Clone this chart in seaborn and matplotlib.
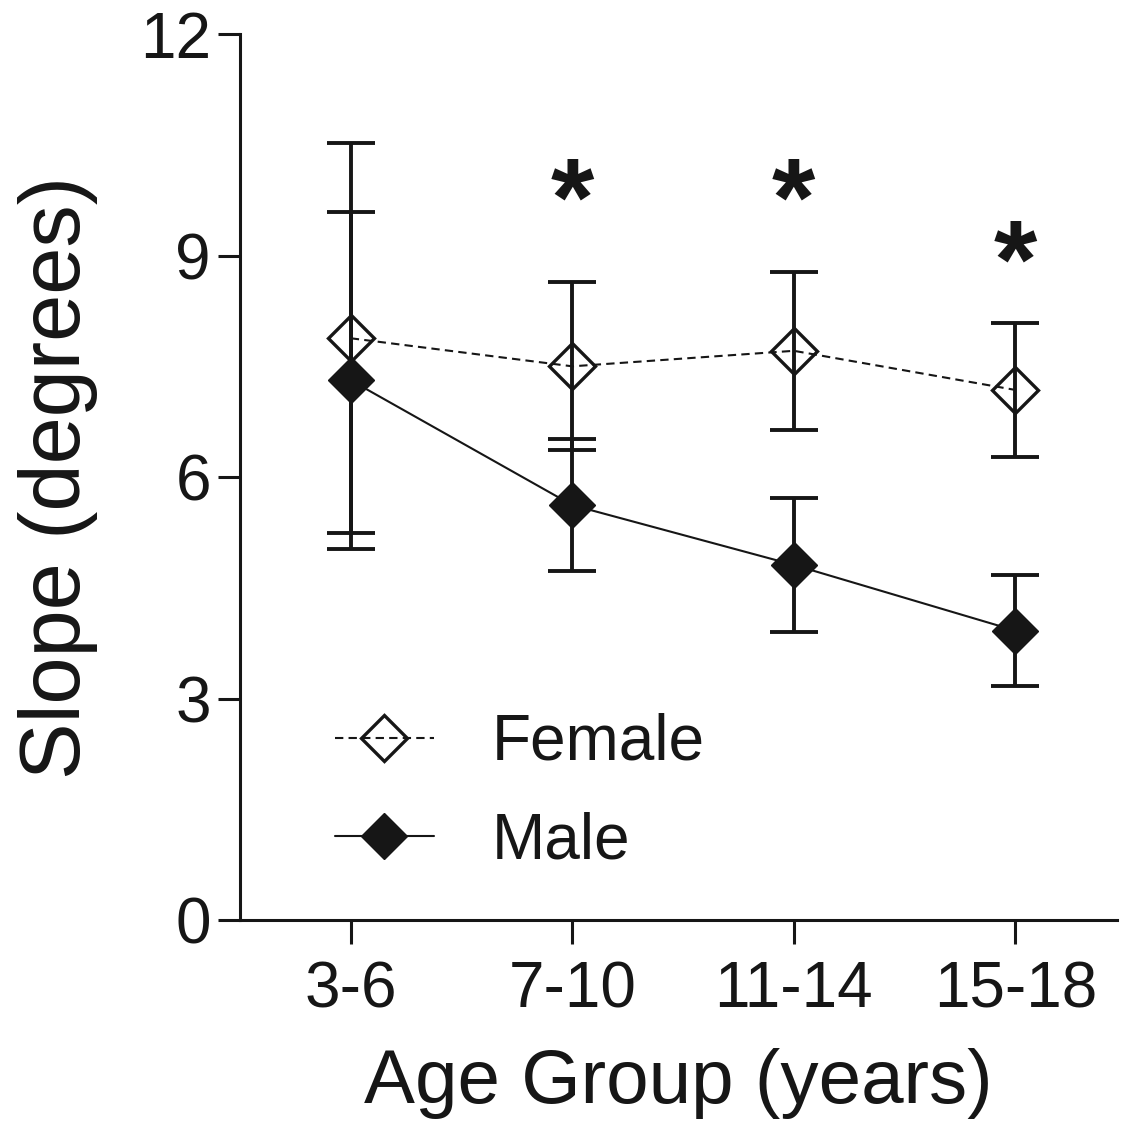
import matplotlib
matplotlib.use("Agg")
import matplotlib.pyplot as plt
import seaborn as sns
import pandas as pd
import numpy as np

# ---- data ----
age_groups = ["3-6", "7-10", "11-14", "15-18"]
female_mean = [7.88, 7.50, 7.71, 7.18]
female_err = [2.64, 1.14, 1.07, 0.91]
male_mean = [7.31, 5.62, 4.81, 3.92]
male_err = [2.28, 0.89, 0.905, 0.75]
sig_groups = ["7-10", "11-14", "15-18"]
sig_y = [9.66, 9.66, 8.83]
y_ticks = [0, 3, 6, 9, 12]

INK = "#161616"

sns.set_style("ticks")
plt.rcParams["font.family"] = ["Liberation Sans", "DejaVu Sans"]

fig = plt.figure(figsize=(11.29, 11.36), dpi=100)
ax = fig.add_axes([0.2126, 0.1901, 0.777, 0.7799])

pos = np.arange(len(age_groups))
df_f = pd.DataFrame({"x": pos, "y": female_mean})
df_m = pd.DataFrame({"x": pos, "y": male_mean})

ms = 23
sns.lineplot(data=df_f, x="x", y="y", ax=ax, color=INK, lw=1.5,
             linestyle=(0, (4, 2.5)), marker="D", markersize=ms,
             markerfacecolor="none", markeredgecolor=INK,
             markeredgewidth=2.4, label="Female", zorder=2)
sns.lineplot(data=df_m, x="x", y="y", ax=ax, color=INK, lw=1.5,
             marker="D", markersize=ms, markerfacecolor=INK,
             markeredgecolor=INK, markeredgewidth=1, label="Male", zorder=2)

ax.errorbar(pos, male_mean, yerr=male_err, fmt="none", ecolor=INK,
            elinewidth=2.8, capsize=17, capthick=2.8, zorder=3)
ax.errorbar(pos, female_mean, yerr=female_err, fmt="none", ecolor=INK,
            elinewidth=2.8, capsize=17, capthick=2.8, zorder=3)

for g, yv in zip(sig_groups, sig_y):
    ax.text(age_groups.index(g), yv, "*", ha="center", va="center",
            fontsize=80, fontweight="bold", color=INK)

ax.set_xlim(-0.50, 3.46)
ax.set_ylim(0, 12)
ax.set_xticks(pos)
ax.set_xticklabels(age_groups)
ax.set_yticks(y_ticks)
ax.tick_params(axis="both", labelsize=46, width=2.2, length=16,
               color=INK, labelcolor=INK, pad=5)
ax.tick_params(axis="x", pad=12, length=17)
for s in ["left", "bottom"]:
    ax.spines[s].set_linewidth(2.2)
    ax.spines[s].set_color(INK)
sns.despine(ax=ax)

ax.set_xlabel("Age Group (years)", fontsize=55, color=INK, labelpad=20)
ax.set_ylabel("Slope (degrees)", fontsize=61, color=INK, labelpad=30)

ax.legend(loc="center left", bbox_to_anchor=(0.108, 0.1444), frameon=False,
          fontsize=46, handlelength=1.55, handletextpad=0.9, borderpad=0,
          borderaxespad=0, labelspacing=0.6, labelcolor=INK)

fig.savefig("out.png", dpi=100)
